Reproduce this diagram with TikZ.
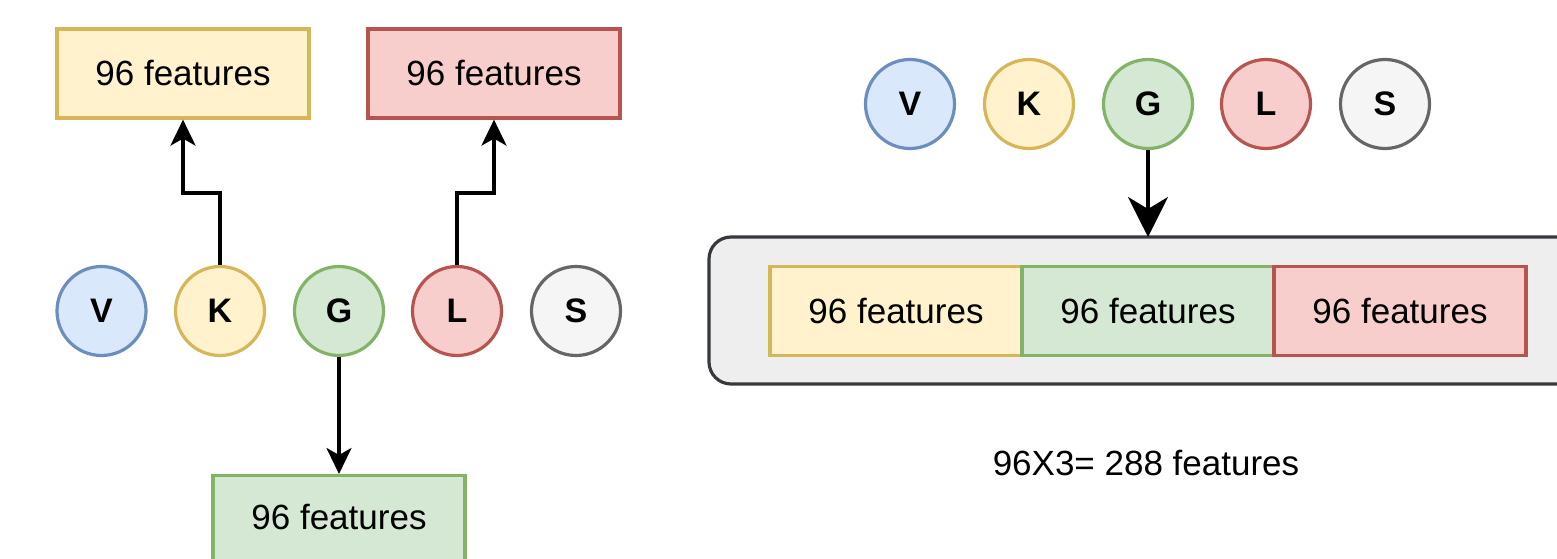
\documentclass[tikz,border=0pt]{standalone}
\usepackage{fontspec}
\setmainfont{Liberation Sans}
\usetikzlibrary{arrows.meta}
\definecolor{bluefill}{HTML}{DAE8FC}\definecolor{bluedraw}{HTML}{6C8EBF}
\definecolor{yelfill}{HTML}{FFF2CC}\definecolor{yeldraw}{HTML}{D6B656}
\definecolor{grnfill}{HTML}{D5E8D4}\definecolor{grndraw}{HTML}{82B366}
\definecolor{redfill}{HTML}{F8CECC}\definecolor{reddraw}{HTML}{B85450}
\definecolor{gryfill}{HTML}{F5F5F5}\definecolor{grydraw}{HTML}{666666}
\definecolor{panelfill}{HTML}{EEEEEE}\definecolor{paneldraw}{HTML}{36393D}
\tikzset{
  feat/.style={draw, line width=3.2pt, minimum width=252pt, minimum height=89pt,
    inner sep=0pt, font=\fontsize{35}{42}\selectfont},
  letter/.style={circle, draw, line width=3.2pt, minimum size=89pt, inner sep=0pt,
    font=\fontsize{34}{40}\selectfont\bfseries},
  conn/.style={line width=3.4pt, -{Stealth[length=26pt,width=25pt,inset=7pt]}},
  bigconn/.style={line width=3.4pt, -{Stealth[length=40pt,width=40pt,inset=12pt]}},
}
\begin{document}
\begin{tikzpicture}[x=1pt,y=-1pt]
\useasboundingbox (0,0) rectangle (1557,559);
\clip (0,0) rectangle (1557,559);
% left part: one branch per feature group
\node[feat, fill=yelfill, draw=yeldraw] (ky) at (183,73.5) {96 features};
\node[feat, fill=redfill, draw=reddraw] (lr) at (494,73.5) {96 features};
\node[letter, fill=bluefill, draw=bluedraw] (v1) at (101.5,311) {V};
\node[letter, fill=yelfill, draw=yeldraw] (k1) at (220,311) {K};
\node[letter, fill=grnfill, draw=grndraw] (g1) at (339,311) {G};
\node[letter, fill=redfill, draw=reddraw] (l1) at (457,311) {L};
\node[letter, fill=gryfill, draw=grydraw] (s1) at (576,311) {S};
\node[feat, fill=grnfill, draw=grndraw, anchor=north, text height=25pt,
  text depth=7pt, yshift=0pt] (gg) at (339,474) {96 features};
\coordinate (kbend) at (220,193);
\coordinate (lbend) at (457,193);
\draw[conn] (k1.north) -- (kbend) -| (ky.south);
\draw[conn] (l1.north) -- (lbend) -| (lr.south);
\draw[conn] (g1.south) -- (gg.north);
% right part: concatenated feature vector
\node[letter, fill=bluefill, draw=bluedraw] (v2) at (910,104) {V};
\node[letter, fill=yelfill, draw=yeldraw] (k2) at (1029,104) {K};
\node[letter, fill=grnfill, draw=grndraw] (g2) at (1148,104) {G};
\node[letter, fill=redfill, draw=reddraw] (l2) at (1266,104) {L};
\node[letter, fill=gryfill, draw=grydraw] (s2) at (1385,104) {S};
\draw[line width=3.2pt, draw=paneldraw, fill=panelfill, rounded corners=22pt]
  (709,237) rectangle (1620,384);
\coordinate (paneltop) at (1148,237);
\node[feat, fill=yelfill, draw=yeldraw] (c1) at (896,311) {96 features};
\node[feat, fill=grnfill, draw=grndraw] (c2) at (1148,311) {96 features};
\node[feat, fill=redfill, draw=reddraw] (c3) at (1400,311) {96 features};
\draw[bigconn] (g2.south) -- (paneltop);
\node[font=\fontsize{35}{42}\selectfont] (total) at (1146,463) {96X3= 288 features};
\end{tikzpicture}
\end{document}
